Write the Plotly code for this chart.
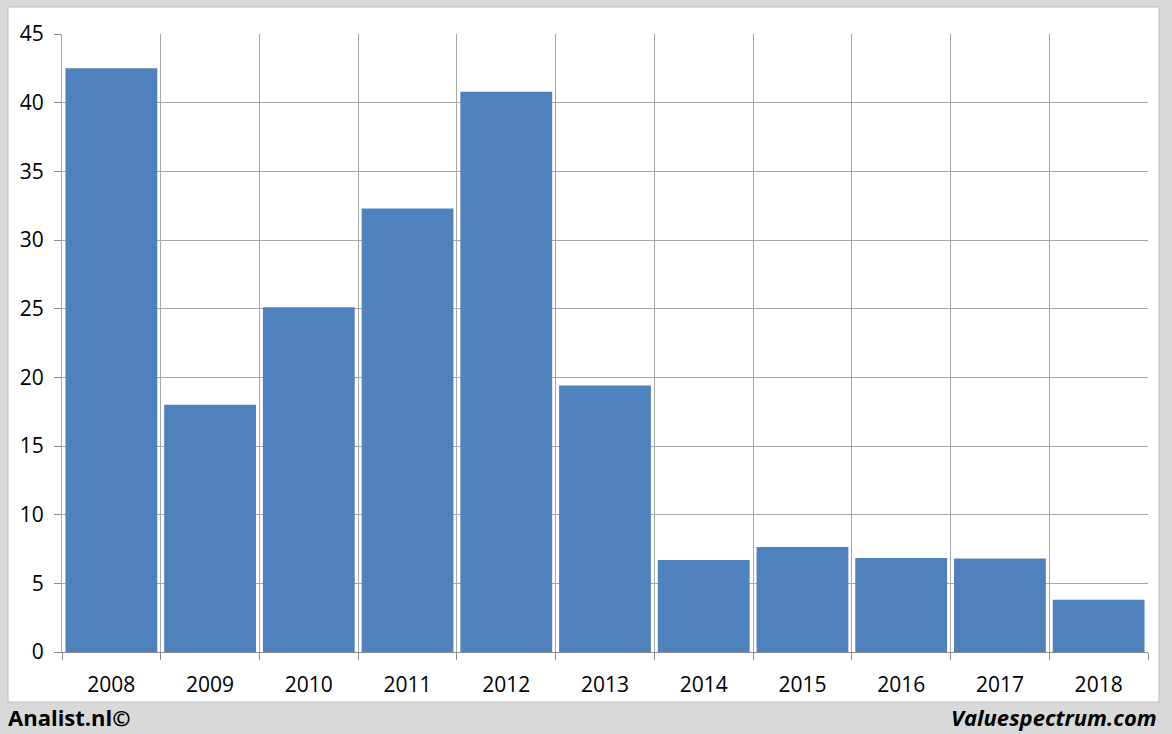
import plotly.graph_objects as go

years = ["2008", "2009", "2010", "2011", "2012", "2013", "2014", "2015", "2016", "2017", "2018"]
values = [42.5, 18.0, 25.1, 32.3, 40.8, 19.4, 6.7, 7.65, 6.85, 6.8, 3.8]
y_ticks = [0, 5, 10, 15, 20, 25, 30, 35, 40, 45]

W, H = 1172, 734
L, R, T, B = 62, 24, 34, 82
pw, ph = W - L - R, H - T - B

def px_x(x):
    return (x - L) / pw

def px_y(y):
    return (H - B - y) / ph

fig = go.Figure(go.Bar(
    x=years, y=values,
    marker=dict(color="#4f81bd", line=dict(width=0)),
))

fig.add_shape(type="rect", xref="paper", yref="paper", layer="below",
              x0=px_x(8), x1=px_x(1159), y0=px_y(702), y1=px_y(7),
              fillcolor="white", line=dict(color="#bdbdbd", width=1))

font = "Open Sans, Liberation Sans, Arial, sans-serif"
fig.update_layout(
    width=W, height=H,
    margin=dict(l=L, r=R, t=T, b=B),
    paper_bgcolor="#d9d9d9",
    plot_bgcolor="white",
    bargap=0.07,
    showlegend=False,
    font=dict(family=font, size=21, color="#000000"),
    xaxis=dict(type="category", tickson="boundaries", showgrid=True,
               gridcolor="#a6a6a6", gridwidth=1, ticks="outside", ticklen=7,
               tickcolor="#8c8c8c", showline=True, linecolor="#8c8c8c",
               tickfont=dict(size=21), ticklabelstandoff=14),
    yaxis=dict(range=[0, 45], tickvals=y_ticks, showgrid=True,
               gridcolor="#a6a6a6", gridwidth=1, ticks="outside", ticklen=7,
               tickcolor="#8c8c8c", showline=True, linecolor="#a6a6a6",
               zeroline=False, tickfont=dict(size=21), ticklabelstandoff=6),
    annotations=[
        dict(text="<b>Analist.nl©</b>", xref="paper", yref="paper",
             x=px_x(6), y=px_y(717), xanchor="left", yanchor="middle",
             showarrow=False, font=dict(family=font, size=22, color="#000")),
        dict(text="<b><i>Valuespectrum.com</i></b>", xref="paper", yref="paper",
             x=px_x(1159), y=px_y(717), xanchor="right", yanchor="middle",
             showarrow=False, font=dict(family=font, size=22, color="#000")),
    ],
)

fig.write_html("out.html", config={"displayModeBar": False},
               post_script="document.body.style.margin='0';document.body.style.background='#d9d9d9';")
